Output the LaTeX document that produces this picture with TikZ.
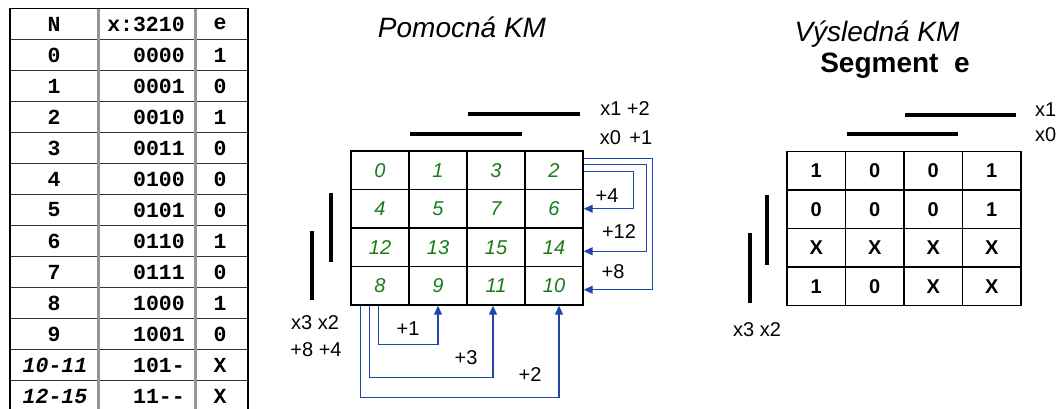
\documentclass[tikz,border=0pt]{standalone}
\usepackage{fontspec}
\setmainfont{Liberation Sans}
\newfontfamily\monof[Ligatures=NoCommon]{Liberation Mono}
\usetikzlibrary{arrows.meta,calc}
\definecolor{kmgreen}{RGB}{24,122,24}
\definecolor{kmblue}{RGB}{32,70,172}
\definecolor{sepgray}{RGB}{150,150,150}
\definecolor{rulegray}{RGB}{50,50,50}

\tikzset{
  tbl/.style={font=\monof\bfseries\fontsize{21.5}{21.5}\selectfont, inner sep=0pt},
  tbli/.style={font=\monof\bfseries\itshape\fontsize{21.5}{21.5}\selectfont, inner sep=0pt},
  kmcell/.style={draw=black, line width=1.4pt, minimum width=58pt, minimum height=38.5pt, inner sep=0pt},
  cellg/.style={kmcell, text=kmgreen, font=\itshape\fontsize{20}{20}\selectfont},
  cellr/.style={kmcell, minimum width=58.5pt, font=\bfseries\fontsize{20}{20}\selectfont},
  bar/.style={line width=4pt},
  lbl/.style={font=\fontsize{20}{20}\selectfont, inner sep=0pt},
  title/.style={font=\itshape\fontsize{28}{28}\selectfont, inner sep=0pt, anchor=base},
  link/.style={draw=kmblue, line width=1.3pt, -{Triangle[length=9pt,width=8pt]}},
}

\begin{document}
\begin{tikzpicture}[x=1pt,y=-1pt]
\useasboundingbox (0,0) rectangle (1062,408);
\clip (0,0) rectangle (1062,408);

% ---------- truth table ----------
\foreach \k in {0,...,12}
  \draw[rulegray, line width=1.3pt] (10,39.5+31*\k) -- (248,39.5+31*\k);
\draw[sepgray, line width=3pt] (98.5,8.5) -- (98.5,412);
\draw[sepgray, line width=3pt] (195,8.5) -- (195,412);
\draw[black, line width=1.5pt] (10,8.5) rectangle (248,412);

\node[tbl] (hN) at (54,24) {N};
\node[tbl] (hX) at (146,24) {x:3210};
\node[tbl] (hE) at (220,24) {e};
\foreach \n/\bits/\e [count=\k] in {0/0000/1,1/0001/0,2/0010/1,3/0011/0,4/0100/0,
    5/0101/0,6/0110/1,7/0111/0,8/1000/1,9/1001/0}{
  \node[tbl] (n\k) at (54,24+31*\k) {\n};
  \node[tbl, anchor=east] (x\k) at (185,24+31*\k) {\bits};
  \node[tbl] (e\k) at (220,24+31*\k) {\e};
}
\node[tbli] (n11) at (55,365) {10-11};
\node[tbl, anchor=east] (x11) at (185,365) {101-};
\node[tbl] (e11) at (220,365) {X};
\node[tbli] (n12) at (55,396) {12-15};
\node[tbl, anchor=east] (x12) at (185,396) {11-{}-};
\node[tbl] (e12) at (220,396) {X};

% ---------- auxiliary map ----------
\node[title] (tPom) at (462,37) {Pomocná KM};
\foreach \r/\row in {1/{0,1,3,2},2/{4,5,7,6},3/{12,13,15,14},4/{8,9,11,10}}{
  \foreach \v [count=\c] in \row
    \node[cellg] (m\r\c) at (322+58*\c,131.75+38.5*\r) {\v};
}
\draw[bar] (468,114) -- (580,114);
\draw[bar] (410,134) -- (522,134);
\draw[bar] (331,193) -- (331,262);
\draw[bar] (312,231) -- (312,300);
\node[lbl] (lx1) at (625,109) {x1 +2};
\node[lbl] (lx0) at (626,138) {x0\hspace{3pt} +1};
\node[lbl] (lx32) at (315,323) {x3 x2};
\node[lbl] (lw84) at (316,350) {+8 +4};

% row steps
\draw[link] ([yshift=-21pt]m14.north east) -- ++(50,0) |- (m24.east);
\draw[link] ([yshift=-14pt]m14.north east) -- ++(63,0) |- ([yshift=-4pt]m34.east);
\draw[link] ([yshift=-8pt]m14.north east) -- ++(69,0) |- ([yshift=-4pt]m44.east);
\node[lbl] (p4) at (607,196) {+4};
\node[lbl] (p12) at (619,232) {+12};
\node[lbl] (p8) at (613,272) {+8};

% column steps
\draw[link] ([xshift=28pt]m41.south west) -- ++(0,38.5) -| (m42.south);
\draw[link] ([xshift=19pt]m41.south west) -- ++(0,71.5) -| ([xshift=-3pt]m43.south);
\draw[link] ([xshift=10pt]m41.south west) -- ++(0,91.5) -| ([xshift=5pt]m44.south);
\node[lbl] (p1) at (408,328.5) {+1};
\node[lbl] (p3) at (466,358) {+3};
\node[lbl] (p2) at (530,375) {+2};

% ---------- resulting map ----------
\node[title] (tVys) at (877,41) {Výsledná KM};
\node[title, font=\bfseries\fontsize{28}{28}\selectfont] (tSeg) at (895,72) {Segment~ e};
\foreach \r/\row in {1/{1,0,0,1},2/{0,0,0,1},3/{X,X,X,X},4/{1,0,X,X}}{
  \foreach \v [count=\c] in \row
    \node[cellr] (r\r\c) at (757.75+58.5*\c,132.25+38.5*\r) {\v};
}
\draw[bar] (905,115) -- (1016,115);
\draw[bar] (847,134) -- (958,134);
\draw[bar] (767,195) -- (767,265);
\draw[bar] (750,233) -- (750,303);
\node[lbl, anchor=west] (rx1) at (1035,110) {x1};
\node[lbl, anchor=west] (rx0) at (1035,135) {x0};
\node[lbl] (rx32) at (757,330) {x3 x2};
\end{tikzpicture}
\end{document}
